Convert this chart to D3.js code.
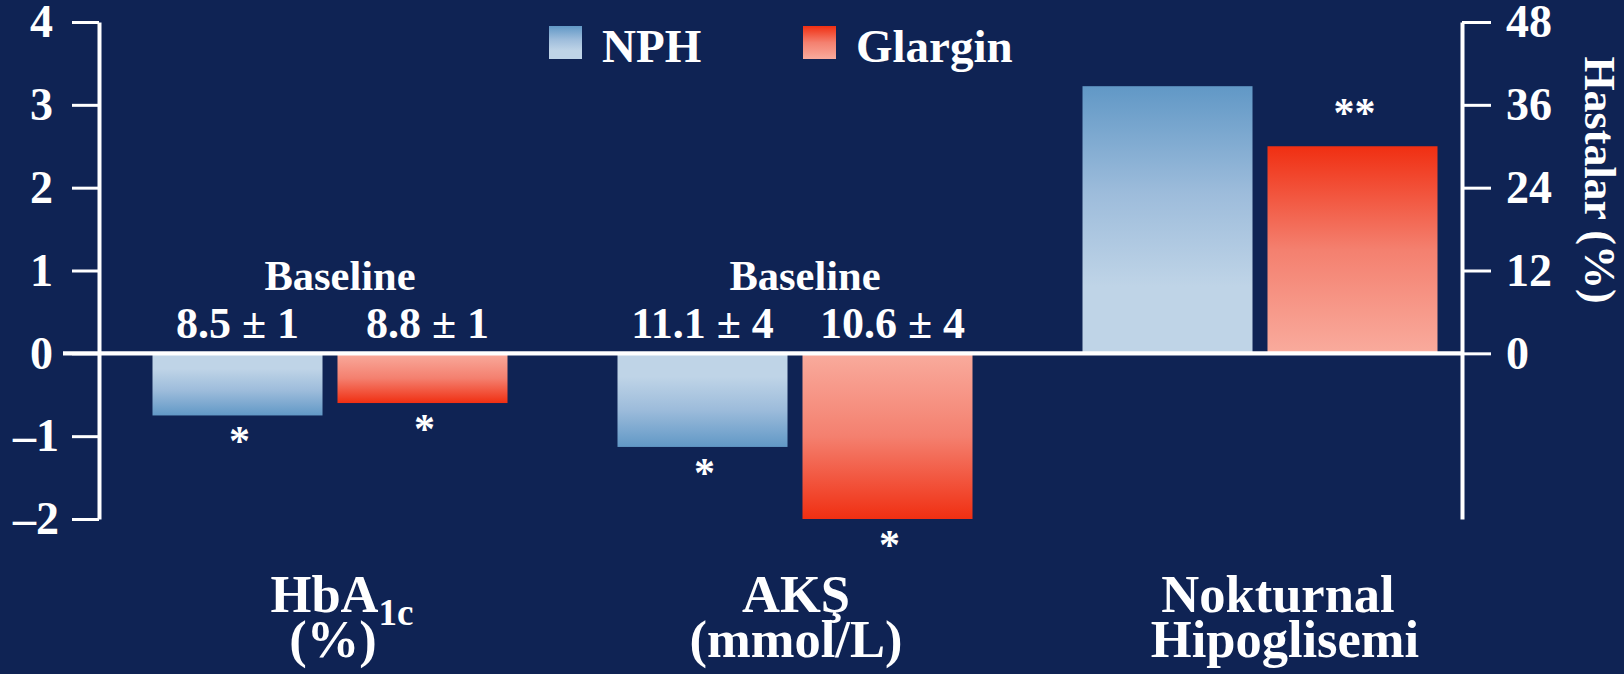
<!DOCTYPE html>
<html>
<head>
<meta charset="utf-8">
<script src="https://cdn.jsdelivr.net/npm/d3@7/dist/d3.min.js"></script>
<style>
  html, body { margin: 0; padding: 0; background: #0f2354; }
  svg { display: block; }
  text { font-family: "Liberation Serif", "Times New Roman", serif; font-weight: bold; fill: #ffffff; }
</style>
</head>
<body>
<svg id="chart" width="1624" height="674"></svg>
<script>
// Outcomes compared between NPH and insulin glargine
const categories = ["HbA1c", "AKŞ", "Nokturnal Hipoglisemi"];
const seriesNames = ["NPH", "Glargin"];
// change from baseline (HbA1c %, AKŞ mmol/L); nocturnal hypoglycaemia as % of patients
const nphValues = [-0.75, -1.13, 38.7];
const glarginValues = [-0.6, -2.0, 30];
// which axis each category is read against
const categoryAxis = ["left", "left", "right"];
const baselineNph = ["8.5 ± 1", "11.1 ± 4", ""];
const baselineGlargin = ["8.8 ± 1", "10.6 ± 4", ""];
const nphMarks = ["*", "*", ""];
const glarginMarks = ["*", "*", "**"];
const leftTicks = [-2, -1, 0, 1, 2, 3, 4];
const rightTicks = [0, 12, 24, 36, 48];
const categoryTitles = [
  { main: "HbA", sub: "1c", second: "(%)" },
  { main: "AKŞ", sub: "", second: "(mmol/L)" },
  { main: "Nokturnal", sub: "", second: "Hipoglisemi" }
];
const baselineWord = "Baseline";
const rightAxisTitle = "Hastalar (%)";

const svg = d3.select("#chart");
const W = 1624, H = 674;
svg.append("rect").attr("width", W).attr("height", H).attr("fill", "#0f2354");

const plotTop = 22, plotBottom = 519, leftX = 99, rightX = 1462;

const yLeft = d3.scaleLinear().domain([-2, 4]).range([plotBottom, plotTop]);
const yRight = d3.scaleLinear().domain([-24, 48]).range([plotBottom, plotTop]);

const x0 = d3.scaleBand().domain(categories).range([97.5, 1492.5]).padding(0);
const x1 = d3.scaleBand().domain(seriesNames).range([55, 410]).paddingInner(0.081).paddingOuter(0);

// gradients: pale next to the zero line, saturated at the bar end
const defs = svg.append("defs");
const palette = {
  NPH: { pale: "#bfd4e7", mid: "#9dbcdb", deep: "#6198c6" },
  Glargin: { pale: "#f9ab9d", mid: "#f4806f", deep: "#f02f12" }
};
const gradStops = {
  NPH: [[0, "pale"], [0.25, "pale"], [0.6, "mid"], [1, "deep"]],
  Glargin: [[0, "pale"], [0.5, "mid"], [1, "deep"]]
};
function makeGrad(id, name, deepAtTop) {
  const s = palette[name];
  const g = defs.append("linearGradient").attr("id", id)
    .attr("x1", 0).attr("y1", deepAtTop ? 1 : 0).attr("x2", 0).attr("y2", deepAtTop ? 0 : 1);
  gradStops[name].forEach(([o, c]) => g.append("stop").attr("offset", o).attr("stop-color", s[c]));
}
makeGrad("nph-up", "NPH", true);
makeGrad("nph-down", "NPH", false);
makeGrad("gla-up", "Glargin", true);
makeGrad("gla-down", "Glargin", false);

// bar records built from the value arrays
const bars = [];
categories.forEach((c, i) => {
  bars.push({ cat: c, series: "NPH", value: nphValues[i], axis: categoryAxis[i], base: baselineNph[i], mark: nphMarks[i] });
  bars.push({ cat: c, series: "Glargin", value: glarginValues[i], axis: categoryAxis[i], base: baselineGlargin[i], mark: glarginMarks[i] });
});
const yOf = d => (d.axis === "right" ? yRight : yLeft);
const barX = d => x0(d.cat) + x1(d.series);
const barCx = d => barX(d) + x1.bandwidth() / 2;

svg.append("g").selectAll("rect").data(bars).join("rect")
  .attr("x", barX)
  .attr("width", x1.bandwidth())
  .attr("y", d => Math.min(yOf(d)(d.value), yOf(d)(0)))
  .attr("height", d => Math.abs(yOf(d)(d.value) - yOf(d)(0)))
  .attr("fill", d => `url(#${d.series === "NPH" ? "nph" : "gla"}-${d.value >= 0 ? "up" : "down"})`);

// zero line across the plot
svg.append("line")
  .attr("x1", 63).attr("x2", rightX)
  .attr("y1", yLeft(0)).attr("y2", yLeft(0))
  .attr("stroke", "#fff").attr("stroke-width", 4.3);

// left axis
const fmt = v => (v < 0 ? "\u2013" + Math.abs(v) : String(v));
const gL = svg.append("g").attr("transform", `translate(${leftX},0)`)
  .call(d3.axisLeft(yLeft).tickValues(leftTicks).tickSize(27).tickSizeOuter(0).tickPadding(19).tickFormat(fmt));
gL.select(".domain").attr("stroke", "#fff").attr("stroke-width", 4);
gL.selectAll(".tick line").attr("stroke", "#fff").attr("stroke-width", 3);
gL.selectAll(".tick text").attr("font-size", 46).attr("fill", "#fff")
  .attr("font-family", '"Liberation Serif", "Times New Roman", serif').attr("font-weight", "bold")
  .attr("dx", d => (d < 0 ? 6 : 0));

// right axis
const gR = svg.append("g").attr("transform", `translate(${rightX},0)`)
  .call(d3.axisRight(yRight).tickValues(rightTicks).tickSize(29).tickSizeOuter(0).tickPadding(15));
gR.select(".domain").attr("stroke", "#fff").attr("stroke-width", 4);
gR.selectAll(".tick line").attr("stroke", "#fff").attr("stroke-width", 3);
gR.selectAll(".tick text").attr("font-size", 46).attr("fill", "#fff")
  .attr("font-family", '"Liberation Serif", "Times New Roman", serif').attr("font-weight", "bold");

svg.append("text")
  .attr("transform", "translate(1600,180) rotate(90)")
  .attr("text-anchor", "middle").attr("dy", "0.35em")
  .attr("font-size", 44)
  .text(rightAxisTitle);

// baseline values above the bars
categories.forEach((c, i) => {
  if (!baselineNph[i]) return;
  svg.append("text").attr("x", x0(c) + x0.bandwidth() / 2 + 10).attr("y", 290)
    .attr("text-anchor", "middle").attr("font-size", 42.5).text(baselineWord);
});
svg.append("g").selectAll("text").data(bars.filter(d => d.base)).join("text")
  .attr("x", d => barCx(d) + (d.series === "Glargin" ? 5 : 0))
  .attr("y", 338)
  .attr("text-anchor", "middle").attr("font-size", 44)
  .text(d => d.base);

// significance marks
svg.append("g").selectAll("text").data(bars.filter(d => d.mark)).join("text")
  .attr("x", d => barCx(d) + 2)
  .attr("y", d => d.value < 0 ? yOf(d)(d.value) + 40 : yOf(d)(d.value) - 19)
  .attr("text-anchor", "middle").attr("font-size", 42)
  .text(d => d.mark);

// category titles
const titleShift = [12, 1, 18];
const secondShift = [3, 1, 25];
categoryTitles.forEach((t, i) => {
  const cx = x0(categories[i]) + x0.bandwidth() / 2;
  const l1 = svg.append("text").attr("x", cx + titleShift[i]).attr("y", 612)
    .attr("text-anchor", "middle").attr("font-size", 52.5);
  l1.append("tspan").text(t.main);
  if (t.sub) l1.append("tspan").attr("font-size", 37).attr("dy", 13).text(t.sub);
  svg.append("text").attr("x", cx + secondShift[i]).attr("y", 657)
    .attr("text-anchor", "middle").attr("font-size", 52.5).text(t.second);
});

// legend
const legend = svg.append("g");
const legendX = [549, 803];
seriesNames.forEach((s, i) => {
  legend.append("rect").attr("x", legendX[i]).attr("y", 26).attr("width", 33).attr("height", 33)
    .attr("fill", `url(#${s === "NPH" ? "nph" : "gla"}-up)`);
  legend.append("text").attr("x", legendX[i] + 53).attr("y", 62).attr("font-size", 47).text(s);
});
</script>
</body>
</html>
